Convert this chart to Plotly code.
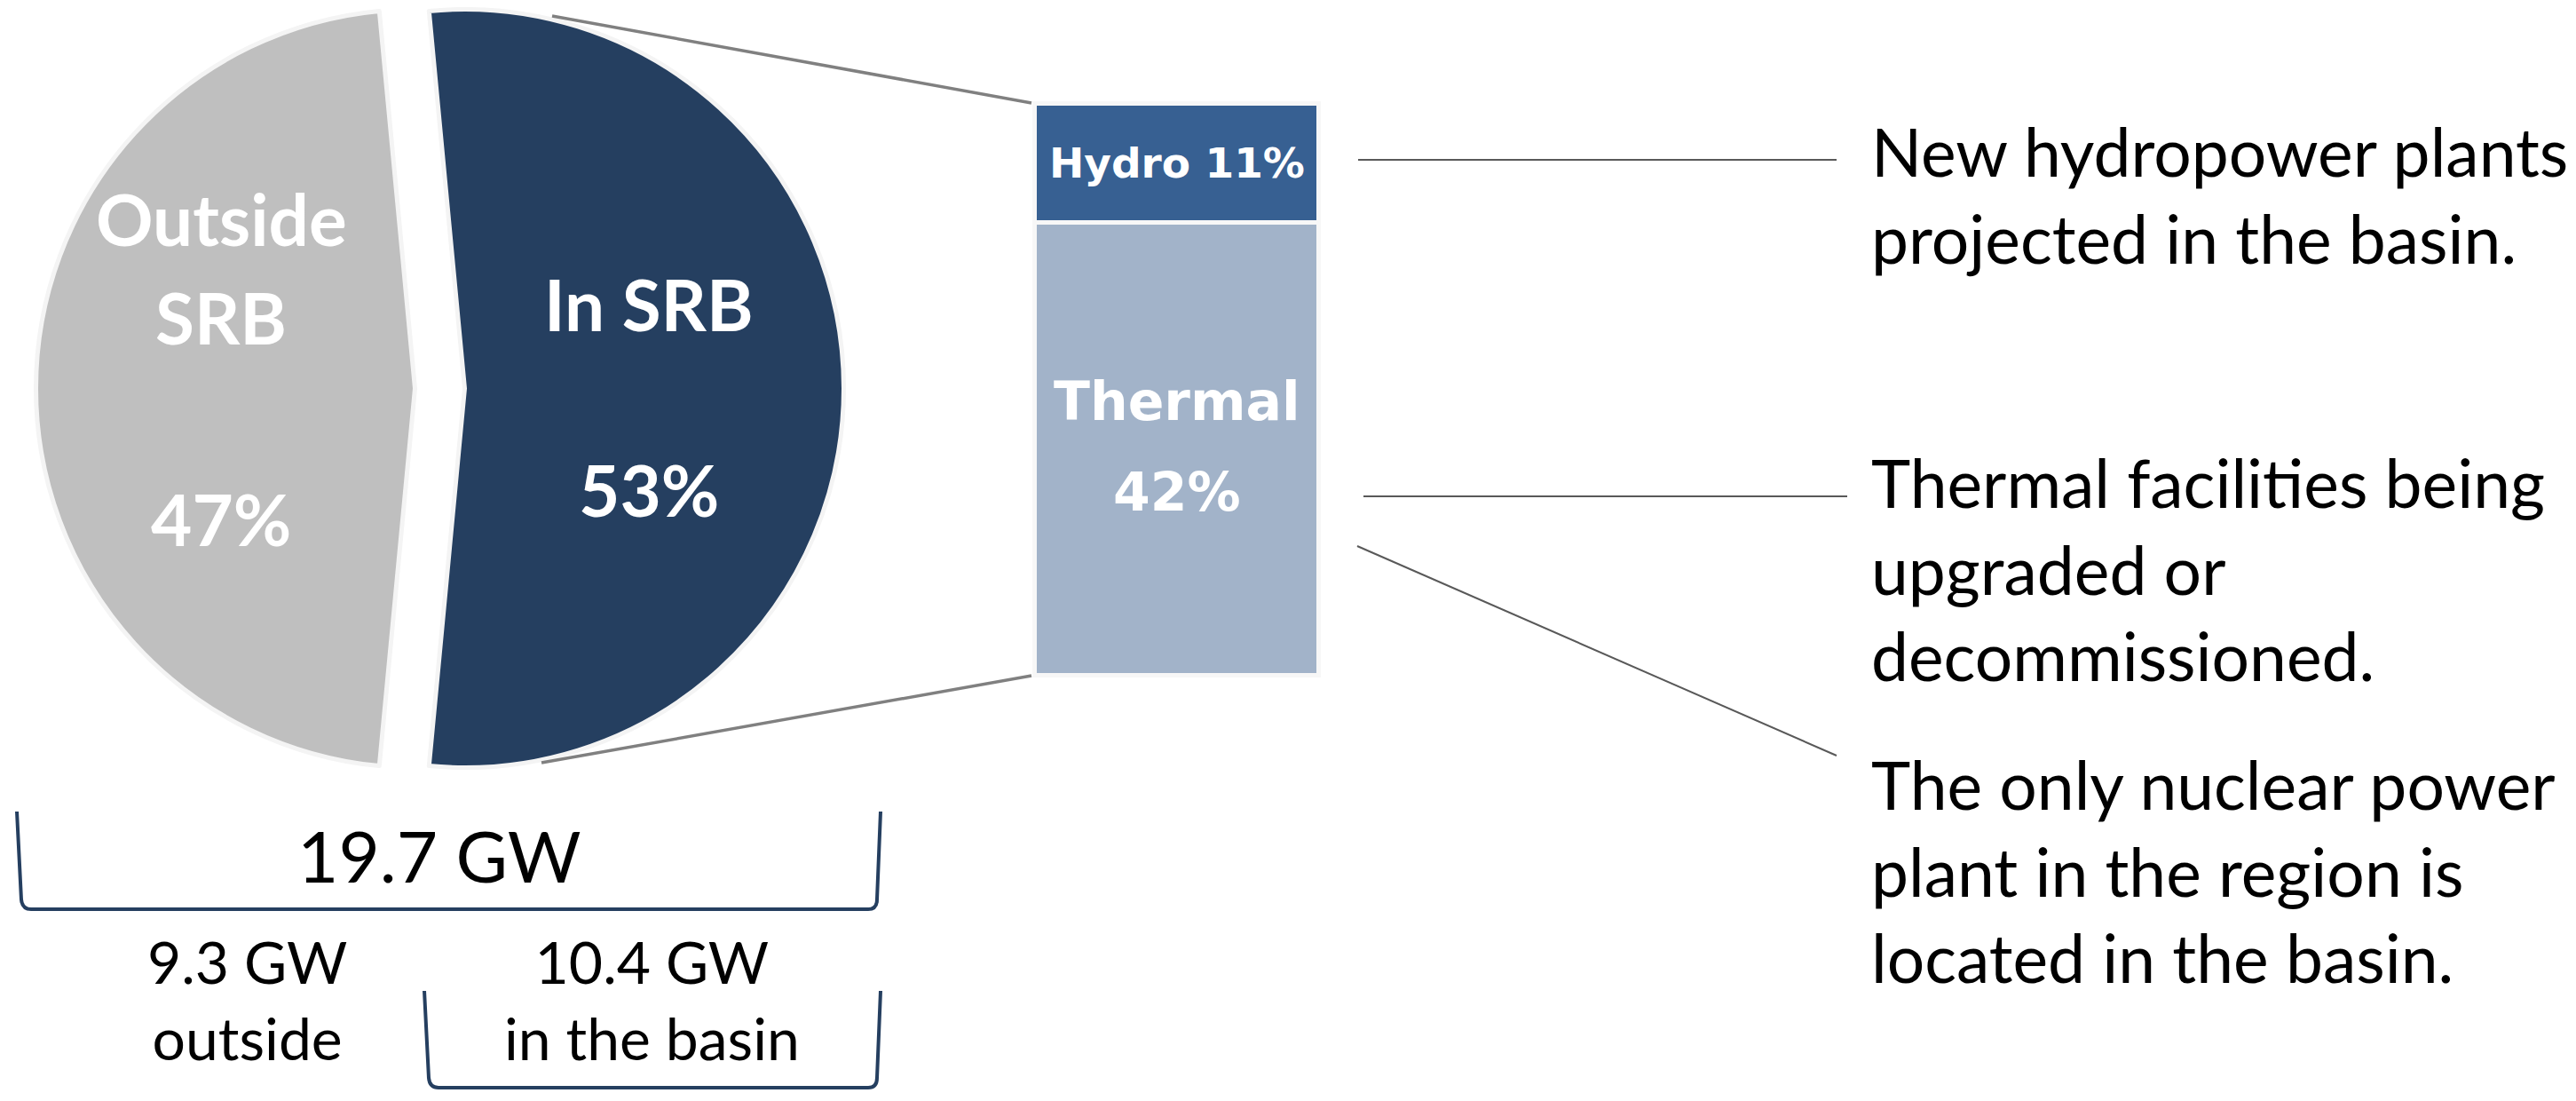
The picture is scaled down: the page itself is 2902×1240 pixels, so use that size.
import plotly.graph_objects as go

# installed capacity, share of the 19.7 GW total
regions = ['In SRB', 'Outside SRB']
region_share = [53, 47]
region_gw = [10.4, 9.3]
total_gw = 19.7

# what the in-basin part is made of
plant_types = ['Thermal', 'Hydro']
type_share = [42, 11]

notes = [
    'New hydropower plants<br>projected in the basin.',
    'Thermal facilities being<br>upgraded or<br>decommissioned.',
    'The only nuclear power<br>plant in the region is<br>located in the basin.',
]

# page body keeps its default 8px margin, so the figure is 16px smaller
# than the window and every position below is given in window pixels
OFF = 8
W, H = 2902 - 2 * OFF, 1240 - 2 * OFF


def px(x):
    return (x - OFF) / W


def py(y):
    return 1 - (y - OFF) / H


NAVY = '#253F60'
GREY = '#BFBFBF'
CLEAR = 'rgba(0,0,0,0)'
EDGE = '#F4F4F4'

fig = go.Figure()

# ---- pie: two copies, each showing one slice, shifted apart (exploded look)
cx, cy, r, shift = 495.5, 437.5, 427, 28
for dx, cols in [(-shift, [CLEAR, GREY]), (shift, [NAVY, CLEAR])]:
    fig.add_trace(go.Pie(
        values=region_share,
        labels=regions,
        sort=False,
        direction='clockwise',
        rotation=-(region_share[0] - 50) * 1.8,
        marker=dict(colors=cols,
                    line=dict(color=[EDGE if c != CLEAR else CLEAR for c in cols], width=5)),
        textinfo='none',
        hoverinfo='label+percent',
        domain=dict(x=[px(cx + dx - r), px(cx + dx + r)], y=[py(cy + r), py(cy - r)]),
        showlegend=False,
    ))

# ---- stacked bar for the in-basin breakdown
bar_colors = {'Thermal': '#A2B3C9', 'Hydro': '#376092'}
for t, v in zip(plant_types, type_share):
    fig.add_trace(go.Bar(
        x=['SRB'], y=[v], name=t, width=1,
        marker=dict(color=bar_colors[t], line=dict(color='#F7F7F7', width=5)),
        hoverinfo='name+y', showlegend=False,
    ))

bx0, bx1, by0, by1 = 1165.5, 1485.5, 116.5, 760.5
pad = 6
tot = sum(type_share)
ux = (bx1 - bx0)
uy = (by1 - by0) / tot
fig.update_layout(
    barmode='stack', bargap=0,
    xaxis=dict(domain=[px(bx0 - pad), px(bx1 + pad)], range=[-0.5 - pad / ux, 0.5 + pad / ux],
               visible=False, fixedrange=True),
    yaxis=dict(domain=[py(by1 + pad), py(by0 - pad)], range=[-pad / uy, tot + pad / uy],
               visible=False, fixedrange=True),
)

ann = []


def label(text, x, y, font, xref='paper', yref='paper', **kw):
    if xref == 'paper':
        x = px(x)
    if yref == 'paper':
        y = py(y)
    d = dict(x=x, y=y, xref=xref, yref=yref, text=text, showarrow=False,
             xanchor='center', yanchor='middle', font=font)
    d.update(kw)
    ann.append(d)


# bar labels
label(f'{plant_types[1]} {type_share[1]}%', 0, type_share[0] + type_share[1] / 2,
      dict(family='DejaVu Sans', size=47, color='white', weight='bold'), xref='x', yref='y')
for txt, ys in [(plant_types[0], 53), (f'{type_share[0]}%', -49)]:
    label(txt, 0, type_share[0] / 2,
          dict(family='DejaVu Sans', size=60, color='white', weight='bold'),
          xref='x', yref='y', yshift=ys)

# pie labels
pie_font = dict(family='Lato', size=80, color='white', weight='bold')
for txt, x, y in [('Outside', 249, 246), ('SRB', 249, 357), (f'{region_share[1]}%', 249, 584),
                  ('In SRB', 731, 342), (f'{region_share[0]}%', 731, 551)]:
    label(txt, x, y, pie_font)

# capacity figures under the pie
black = dict(family='Lato', color='black')
label(f'{total_gw} GW', 495, 963, dict(size=80, **black))
label(f'{region_gw[1]} GW<br>outside', 278, 1125, dict(size=66, **black))
label(f'{region_gw[0]} GW<br>in the basin', 734, 1125, dict(size=66, **black))

# side notes
for txt, y in zip(notes, [219, 640, 980]):
    label(txt, 2106, y, dict(size=75, **black), xanchor='left', align='left')

shapes = []


def seg(x0, y0, x1, y1, color, width):
    shapes.append(dict(type='line', xref='paper', yref='paper',
                       x0=px(x0), y0=py(y0), x1=px(x1), y1=py(y1),
                       line=dict(color=color, width=width)))


# pie -> bar connectors
seg(622, 18, 1162, 116, '#808080', 3.5)
seg(610, 859, 1162, 761, '#808080', 3.5)
# leader lines to the notes
seg(1530, 180, 2069, 180, '#595959', 2)
seg(1536, 559, 2081, 559, '#595959', 2)
seg(1529, 615, 2069, 851, '#595959', 2)


def bracket(x0, x1, ytop, ybot):
    pts = [(x0, ytop), (x0 + 5, ybot - 11), (x0 + 6, ybot), (x0 + 16, ybot),
           (x1 - 14, ybot), (x1 - 4, ybot), (x1 - 4, ybot - 11), (x1, ytop)]
    p = [f'{px(a):.5f},{py(b):.5f}' for a, b in pts]
    path = f'M {p[0]} L {p[1]} Q {p[2]} {p[3]} L {p[4]} Q {p[5]} {p[6]} L {p[7]}'
    shapes.append(dict(type='path', xref='paper', yref='paper', path=path,
                       line=dict(color=NAVY, width=4)))


bracket(19, 992, 914, 1024)
bracket(478, 992, 1116, 1225)

fig.update_layout(
    width=W, height=H,
    margin=dict(l=0, r=0, t=0, b=0),
    paper_bgcolor='white', plot_bgcolor='white',
    annotations=ann, shapes=shapes,
)

fig.write_html('out.html')
